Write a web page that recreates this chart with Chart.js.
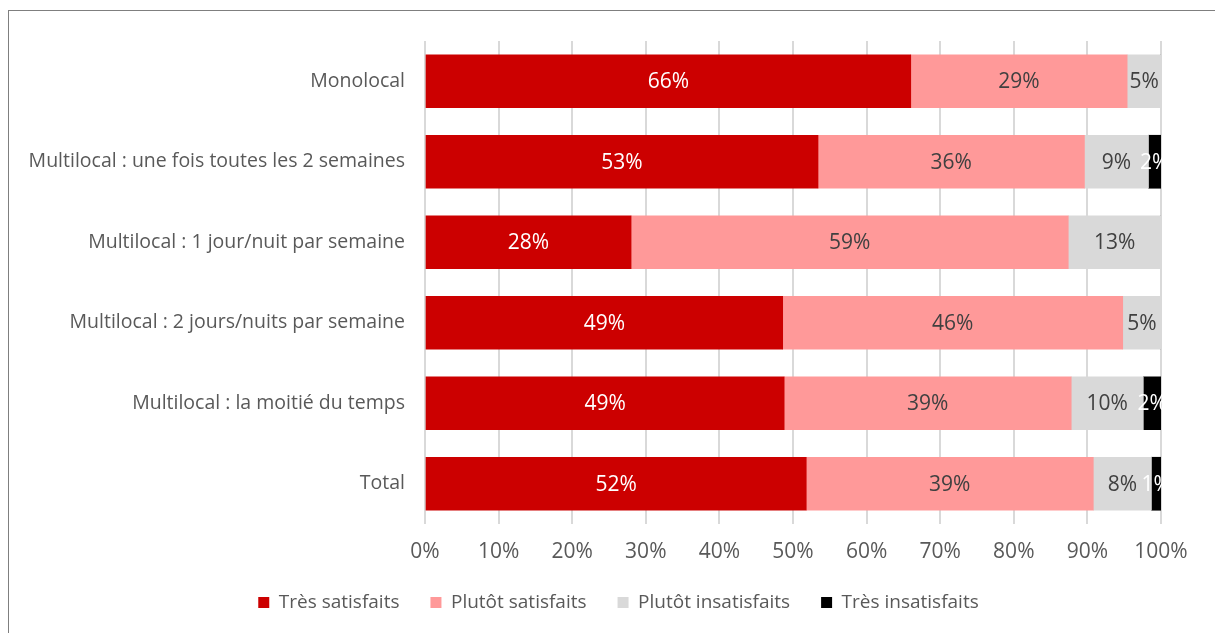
<!DOCTYPE html>
<html lang="fr">
<head>
    <meta charset="UTF-8">
    <title>Satisfaction selon le mode de vie</title>
    <script src="https://cdn.jsdelivr.net/npm/chart.js"></script>
    <style>
        body { margin: 0; background: #fff; }
        #wrap { position: relative; width: 1215px; height: 633px; overflow: hidden; }
        #frame { position: absolute; left: 8px; top: 10px; width: 1400px; height: 900px;
                 border-left: 1px solid #7f7f7f; border-top: 1px solid #7f7f7f; }
        #chartBox { position: absolute; left: 0; top: 0; width: 1215px; height: 633px; }
    </style>
</head>
<body>
    <div id="wrap">
        <div id="frame"></div>
        <div id="chartBox"><canvas id="satisfactionChart"></canvas></div>
    </div>

    <script>
        const categories = [
            'Monolocal',
            'Multilocal : une fois toutes les 2 semaines',
            'Multilocal : 1 jour/nuit par semaine',
            'Multilocal : 2 jours/nuits par semaine',
            'Multilocal : la moitié du temps',
            'Total'
        ];
        const seriesNames = ['Très satisfaits', 'Plutôt satisfaits', 'Plutôt insatisfaits', 'Très insatisfaits'];
        const tresSatisfaits = [66.0, 53.4, 28.0, 48.6, 48.8, 51.8];
        const plutotSatisfaits = [29.4, 36.2, 59.4, 46.2, 39.0, 39.0];
        const plutotInsatisfaits = [4.6, 8.7, 12.6, 5.2, 9.8, 7.9];
        const tresInsatisfaits = [0, 1.7, 0, 0, 2.4, 1.3];
        const xTicks = [0, 10, 20, 30, 40, 50, 60, 70, 80, 90, 100];

        const barColors = ['#cc0000', '#ff9999', '#d9d9d9', '#000000'];
        const labelColors = ['#ffffff', '#404040', '#404040', '#ffffff'];
        const fontFamily = '"Open Sans", "Noto Sans", sans-serif';

        // writes the rounded percentage in the middle of each segment
        const segmentLabels = {
            id: 'segmentLabels',
            afterDatasetsDraw(chart) {
                const ctx = chart.ctx;
                ctx.save();
                ctx.font = '21px ' + fontFamily;
                ctx.textAlign = 'center';
                ctx.textBaseline = 'middle';
                chart.data.datasets.forEach((ds, i) => {
                    const meta = chart.getDatasetMeta(i);
                    if (meta.hidden) return;
                    meta.data.forEach((bar, j) => {
                        const v = ds.data[j];
                        if (!v) return;
                        const p = bar.getProps(['x', 'y', 'base'], true);
                        ctx.fillStyle = labelColors[i];
                        ctx.fillText(Math.round(v) + '%', (p.x + p.base) / 2, p.y + 1);
                    });
                });
                ctx.restore();
            }
        };

        // the legend sits a bit right of the canvas centre
        const legendShift = {
            id: 'legendShift',
            afterLayout(chart) {
                if (chart.legend) {
                    chart.legend.left += 38;
                    chart.legend.right += 38;
                }
            }
        };

        const seriesData = [tresSatisfaits, plutotSatisfaits, plutotInsatisfaits, tresInsatisfaits];

        const ctx = document.getElementById('satisfactionChart').getContext('2d');
        new Chart(ctx, {
            type: 'bar',
            data: {
                labels: categories,
                datasets: seriesNames.map((name, i) => ({
                    label: name,
                    data: seriesData[i],
                    backgroundColor: barColors[i],
                    borderWidth: 0,
                    barThickness: 53
                }))
            },
            options: {
                indexAxis: 'y',
                responsive: true,
                maintainAspectRatio: false,
                animation: false,
                layout: { padding: { top: 41, right: 54, left: 0, bottom: 11 } },
                scales: {
                    x: {
                        stacked: true,
                        min: 0,
                        max: 100,
                        afterBuildTicks: (scale) => { scale.ticks = xTicks.map(v => ({ value: v })); },
                        afterFit: (scale) => { scale.height = 38; },
                        grid: { color: '#d9d9d9', lineWidth: 2, drawTicks: false },
                        border: { display: false },
                        ticks: {
                            padding: 15,
                            color: '#595959',
                            font: { family: fontFamily, size: 21 },
                            callback: (v) => v + '%'
                        }
                    },
                    y: {
                        stacked: true,
                        afterFit: (scale) => { scale.width = 425; },
                        grid: { display: false, drawTicks: false },
                        border: { display: false },
                        ticks: {
                            padding: 20,
                            color: '#595959',
                            font: { family: fontFamily, size: 19.5 }
                        }
                    }
                },
                plugins: {
                    legend: {
                        position: 'bottom',
                        labels: {
                            boxWidth: 11,
                            boxHeight: 11,
                            padding: 31,
                            color: '#595959',
                            font: { family: fontFamily, size: 19 }
                        }
                    },
                    tooltip: { enabled: false }
                }
            },
            plugins: [segmentLabels, legendShift]
        });
    </script>
</body>
</html>
